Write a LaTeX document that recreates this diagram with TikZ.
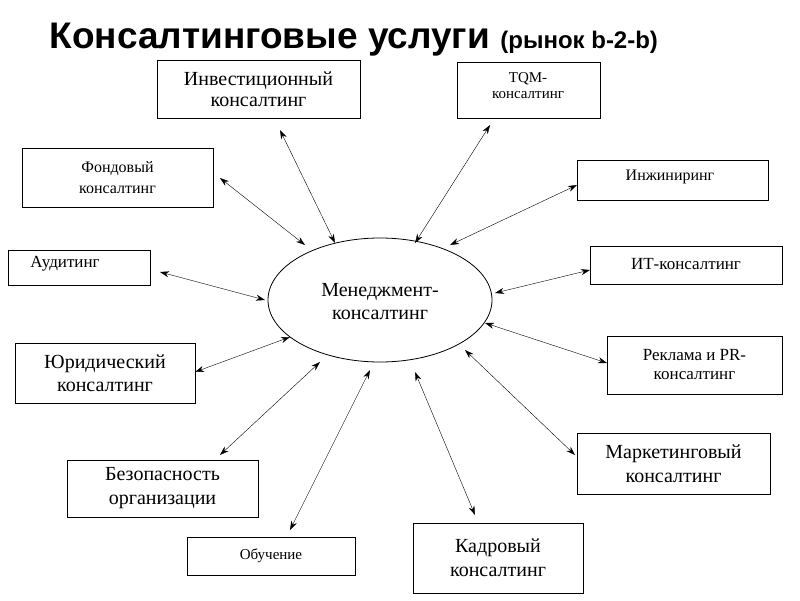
\documentclass[tikz,border=0pt]{standalone}
\usepackage{fontspec}
\setmainfont{Liberation Serif}
\newfontfamily\titlefont{Liberation Sans}
\usetikzlibrary{arrows.meta}
\begin{document}
\begin{tikzpicture}[x=1pt,y=-1pt,
  box/.style={draw,thick,fill=white,align=center,inner sep=0pt},
  con/.style={{Stealth[length=9pt,width=6pt]}-{Stealth[length=9pt,width=6pt]},thin}]
\useasboundingbox[fill=white] (0,0) rectangle (800,600);
\node[anchor=west,font=\titlefont\bfseries\fontsize{37}{40}\selectfont] (t) at (46,40) {Консалтинговые услуги \fontsize{24}{28}\selectfont(рынок b-2-b)};
\newcommand\bx[5]{\node[box,minimum width={(#4-#2)*1pt},minimum height={(#5-#3)*1pt}] (#1) at ({(#2+#4)/2},{(#3+#5)/2}) {};}
\bx{inv}{157}{60}{360}{118}
\node[align=center,font=\fontsize{20}{21}\selectfont] at (inv) {Инвестиционный\\консалтинг};
\bx{tqm}{457}{62}{600}{118}
\node[align=center,font=\fontsize{15}{16}\selectfont] at (528,86) {TQM-\\консалтинг};
\bx{fond}{22}{148}{213}{207}
\node[align=center,font=\fontsize{16}{21}\selectfont] at (fond) {Фондовый\\консалтинг};
\bx{eng}{577}{160}{768}{200}
\node[font=\fontsize{16}{16}\selectfont] at (670,177) {Инжиниринг};
\bx{aud}{8}{250}{150}{285}
\node[font=\fontsize{17}{17}\selectfont] at (65,264) {Аудитинг};
\bx{it}{590}{246}{782}{284}
\node[font=\fontsize{17}{17}\selectfont] at (686,264) {ИТ-консалтинг};
\bx{jur}{15}{343}{195}{403}
\node[align=center,font=\fontsize{20}{23}\selectfont] at (jur) {Юридический\\консалтинг};
\bx{pr}{607}{336}{782}{394}
\node[align=center,font=\fontsize{17}{19}\selectfont] at (pr) {Реклама и PR-\\консалтинг};
\bx{sec}{67}{460}{258}{517}
\node[align=center,font=\fontsize{20}{24}\selectfont] at (sec) {Безопасность\\организации};
\bx{mar}{577}{433}{770}{494}
\node[align=center,font=\fontsize{20}{24}\selectfont] at (mar) {Маркетинговый\\консалтинг};
\bx{edu}{187}{537}{355}{575}
\node[font=\fontsize{15}{15}\selectfont] at (edu) {Обучение};
\bx{hr}{413}{523}{583}{593}
\node[align=center,font=\fontsize{20}{24}\selectfont] at (hr) {Кадровый\\консалтинг};
\draw[thick] (380,300) ellipse [x radius=112, y radius=62];
\node[align=center,font=\fontsize{20}{23}\selectfont] (m) at (380,302) {Менеджмент-\\консалтинг};
\foreach \n/\a/\b/\c/\d in {inv/280/130/335/243, tqm/490/125/415/243, fond/220/178/305/245,
  eng/577/185/450/245, aud/160/272/265/300, it/590/270/495/293, jur/195/372/290/337,
  pr/607/363/485/323, sec/220/455/320/362, mar/575/455/465/350, edu/290/530/370/370, hr/475/515/415/372}{
  \coordinate (\n-s) at (\a,\b); \coordinate (\n-e) at (\c,\d);
  \draw[con] (\n-s) -- (\n-e);}
\end{tikzpicture}
\end{document}
